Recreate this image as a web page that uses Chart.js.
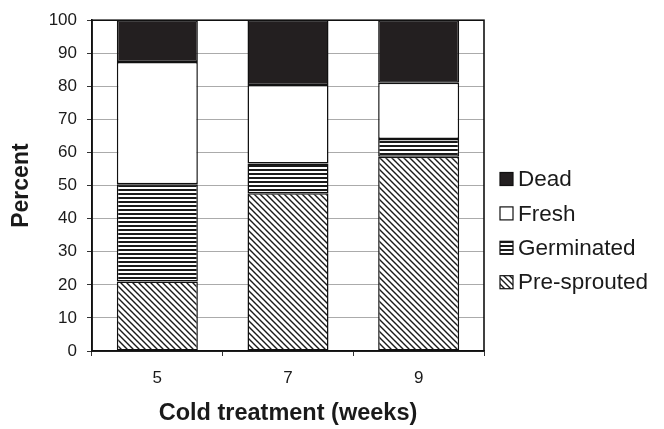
<!DOCTYPE html>
<html>
<head>
<meta charset="utf-8">
<script src="https://cdn.jsdelivr.net/npm/chart.js@4/dist/chart.umd.min.js"></script>
<style>
  html, body { margin: 0; padding: 0; background: #fff; }
  #wrap { width: 664px; height: 429px; }
</style>
</head>
<body>
<div id="wrap"><canvas id="chart1" width="664" height="429"></canvas></div>
<script>
// weeks of cold treatment
var weeks = ['5', '7', '9'];
// percent of tubers in each class
var preSprouted = [21, 47.7, 58.7];
var germinated = [29.4, 9, 5.4];
var fresh = [37, 23.7, 17];
var dead = [12.6, 19.6, 18.9];
var yTicks = [0, 10, 20, 30, 40, 50, 60, 70, 80, 90, 100];

function makePattern(kind) {
    var c = document.createElement('canvas');
    var g = c.getContext('2d');
    if (kind == 'diag') {
        c.width = 6; c.height = 6;
        g.fillStyle = '#fff';
        g.fillRect(0, 0, 6, 6);
        g.strokeStyle = '#1a1a1a';
        g.lineWidth = 1.4;
        g.beginPath();
        g.moveTo(-1, -1); g.lineTo(7, 7);
        g.moveTo(-4, 2); g.lineTo(4, 10);
        g.moveTo(2, -4); g.lineTo(10, 4);
        g.stroke();
    } else {
        c.width = 4; c.height = 4;
        g.fillStyle = '#fff';
        g.fillRect(0, 0, 4, 4);
        g.fillStyle = '#1a1a1a';
        g.fillRect(0, 1, 4, 2);
    }
    return g.createPattern(c, 'repeat');
}

var hatchDiag = makePattern('diag');
var hatchHoriz = makePattern('horiz');

// little legend at the right, top to bottom: Dead, Fresh, Germinated, Pre-sprouted
var sideLegend = {
    id: 'sideLegend',
    afterDraw: function(chart) {
        var ctx = chart.ctx;
        var sets = chart.data.datasets.slice().reverse();
        ctx.save();
        ctx.font = '22.5px "Liberation Sans", Arial, sans-serif';
        ctx.textBaseline = 'middle';
        ctx.textAlign = 'left';
        sets.forEach(function(ds, i) {
            var y = 179 + i * 34.4;
            ctx.fillStyle = ds.backgroundColor;
            ctx.fillRect(500, y - 6.5, 13, 13);
            ctx.strokeStyle = '#111';
            ctx.lineWidth = 1.2;
            ctx.strokeRect(500, y - 6.5, 13, 13);
            ctx.fillStyle = '#1a1a1a';
            ctx.fillText(ds.label, 518, y + 1);
        });
        ctx.restore();
    }
};

// black frame round the plot area
var plotFrame = {
    id: 'plotFrame',
    afterDatasetsDraw: function(chart) {
        var a = chart.chartArea;
        var ctx = chart.ctx;
        ctx.save();
        ctx.strokeStyle = '#111';
        ctx.lineWidth = 1.6;
        ctx.strokeRect(a.left, a.top, a.right - a.left, a.bottom - a.top);
        ctx.restore();
    }
};

var barStyle = {
    borderColor: '#111',
    borderWidth: 1.5,
    borderSkipped: false,
    categoryPercentage: 1,
    barPercentage: 0.62
};

var myChart = new Chart(document.getElementById('chart1'), {
    type: 'bar',
    data: {
        labels: weeks,
        datasets: [
            Object.assign({ label: 'Pre-sprouted', data: preSprouted, backgroundColor: hatchDiag }, barStyle),
            Object.assign({ label: 'Germinated', data: germinated, backgroundColor: hatchHoriz }, barStyle),
            Object.assign({ label: 'Fresh', data: fresh, backgroundColor: '#ffffff' }, barStyle),
            Object.assign({ label: 'Dead', data: dead, backgroundColor: '#231f20' }, barStyle)
        ]
    },
    options: {
        responsive: false,
        animation: false,
        layout: { padding: { top: 17, right: 180, left: 0, bottom: 0 } },
        plugins: {
            legend: { display: false },
            tooltip: { enabled: false }
        },
        scales: {
            x: {
                stacked: true,
                offset: true,
                grid: { display: true, drawOnChartArea: false, offset: true, tickLength: 5, color: '#333' },
                border: { display: true, color: '#111', width: 1.6 },
                ticks: { color: '#1a1a1a', padding: 12, font: { family: '"Liberation Sans", Arial', size: 17 } },
                title: {
                    display: true,
                    text: 'Cold treatment (weeks)',
                    color: '#1a1a1a',
                    font: { family: '"Liberation Sans", Arial', size: 23.5, weight: 'bold' },
                    padding: { top: 0, bottom: 1 }
                },
                afterFit: function(s) { s.height = 78; }
            },
            y: {
                stacked: true,
                min: 0,
                max: 100,
                afterBuildTicks: function(s) { s.ticks = yTicks.map(function(v) { return { value: v }; }); },
                grid: { color: '#ababab', tickColor: '#333', tickLength: 5, lineWidth: 1 },
                border: { display: true, color: '#111', width: 1.6 },
                ticks: { color: '#1a1a1a', padding: 10, font: { family: '"Liberation Sans", Arial', size: 17 } },
                title: {
                    display: true,
                    text: 'Percent',
                    color: '#1a1a1a',
                    font: { family: '"Liberation Sans", Arial', size: 23, weight: 'bold' },
                    padding: { top: 8, bottom: 0 }
                },
                afterFit: function(s) { s.width = 92; }
            }
        }
    },
    plugins: [sideLegend, plotFrame]
});
</script>
</body>
</html>
